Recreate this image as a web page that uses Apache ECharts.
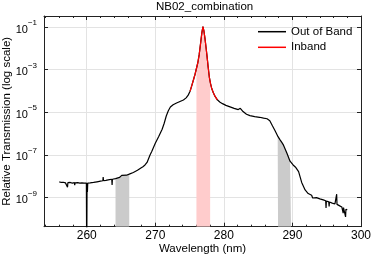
<!DOCTYPE html>
<html><head><meta charset="utf-8">
<script src="https://cdn.jsdelivr.net/npm/echarts@6/dist/echarts.min.js"></script>
<style>html,body{margin:0;padding:0;background:#fff}#c{width:374px;height:259px}</style>
</head><body><div id="c"></div>
<script>
// Wavelength (nm) and log10 of relative transmission
const wavelength = [
256.0,256.3,256.6,256.9,257.15,257.2,257.25,257.6,257.9,258.2,258.25,258.3,258.7,259.0,259.3,259.6,259.95,
260.0,260.05,260.1,260.15,260.5,261.0,261.5,262.0,262.35,262.4,262.45,262.8,263.3,263.65,263.7,263.75,
264.2,264.8,265.1,265.15,265.8,266.2,266.8,267.4,267.9,268.2,268.5,268.8,269.0,269.25,269.5,270.0,
270.5,271.0,271.3,271.6,271.9,272.2,272.6,273.1,273.6,274.1,274.5,274.8,
275.07,275.3,275.55,275.8,276.0,276.2,276.4,276.6,276.8,276.95,277.1,277.25,277.4,277.55,277.7,277.88,
278.05,278.23,278.45,278.7,279.05,
279.4,279.8,280.3,280.9,281.5,282.1,282.4,282.5,282.8,283.3,283.8,284.5,285.2,285.8,286.3,286.7,
287.1,287.45,287.9,288.2,288.45,288.7,289.2,289.65,290.1,290.5,290.9,291.35,291.85,292.3,292.8,
292.95,293.0,293.5,294.0,294.5,294.85,294.9,294.95,295.3,295.35,295.4,295.8,296.2,296.4,296.45,296.5,
296.9,297.2,297.35,297.4,297.45,297.7,297.75,297.8,298.0
];
const log10Transmission = [
-8.27,-8.30,-8.29,-8.32,-8.31,-8.52,-8.31,-8.30,-8.33,-8.31,-8.43,-8.32,-8.31,-8.33,-8.32,-8.33,-8.33,
-12.0,-8.33,-8.75,-8.33,-8.32,-8.30,-8.27,-8.24,-8.22,-8.05,-8.22,-8.20,-8.17,-8.15,-8.42,-8.15,
-8.12,-8.06,-7.97,-8.03,-7.96,-7.91,-7.83,-7.73,-7.62,-7.56,-7.48,-7.36,-7.20,-7.00,-6.83,-6.46,
-6.14,-5.80,-5.52,-5.18,-4.93,-4.76,-4.65,-4.57,-4.50,-4.43,-4.33,-4.20,
-4.02,-3.78,-3.50,-3.22,-2.95,-2.68,-2.30,-1.78,-1.25,-0.98,-1.20,-1.55,-1.95,-2.38,-2.85,-3.35,
-3.65,-3.89,-4.08,-4.25,-4.42,
-4.52,-4.60,-4.68,-4.75,-4.82,-4.88,-4.82,-4.86,-4.97,-5.10,-5.16,-5.21,-5.24,-5.28,-5.31,-5.40,
-5.65,-5.86,-6.15,-6.30,-6.42,-6.55,-6.93,-7.30,-7.48,-7.60,-7.79,-8.30,-8.65,-8.82,-8.90,
-9.03,-8.94,-9.01,-9.07,-9.12,-9.16,-9.50,-9.17,-9.21,-9.43,-9.22,-9.27,-9.31,-9.32,-8.85,-9.33,
-9.40,-9.45,-9.47,-9.74,-9.48,-9.55,-9.92,-9.56,-9.58
];
const inbandRange = [275.07, 279.05];
const grayBands = [[264.2, 266.2], [287.85, 289.8]];
const pinkBand = [276.0, 278.0];
const yTickExponents = [-9, -7, -5, -3, -1];
const xRange = [253.77, 300];
const yRange = [-10.377, -0.485];

function interp(x) {
  for (let i = 1; i < wavelength.length; i++) {
    if (wavelength[i] >= x) {
      const x0 = wavelength[i-1], x1 = wavelength[i];
      const t = (x - x0) / (x1 - x0);
      return log10Transmission[i-1] + t * (log10Transmission[i] - log10Transmission[i-1]);
    }
  }
  return log10Transmission[log10Transmission.length - 1];
}
function bandData(a, b) {
  const d = [[a, interp(a)]];
  wavelength.forEach((w, i) => { if (w > a && w < b) d.push([w, log10Transmission[i]]); });
  d.push([b, interp(b)]);
  return d;
}
const allData = wavelength.map((w, i) => [w, log10Transmission[i]]);
const inbandData = allData.filter(p => p[0] >= inbandRange[0] && p[0] <= inbandRange[1]);

function bandSeries(name, range, color) {
  return {
    name: name, type: 'line', data: bandData(range[0], range[1]),
    symbol: 'none', silent: true, z: 1,
    lineStyle: { width: 0 },
    areaStyle: { color: color, opacity: 1, origin: 'start' }
  };
}

const FONT = 'Liberation Sans';
const axisLineStyle = { color: '#222', width: 1 };
const chart = echarts.init(document.getElementById('c'));
chart.setOption({
  animation: false,
  textStyle: { fontFamily: FONT },
  title: {
    text: 'NB02_combination', left: 156, top: 1, padding: 0,
    textStyle: { fontFamily: FONT, fontSize: 11.5, fontWeight: 'normal', color: '#000' }
  },
  legend: {
    orient: 'vertical', left: 258, top: 24.7, padding: 0,
    itemWidth: 28, itemHeight: 1.5, itemGap: 1.6, icon: 'rect',
    textStyle: { fontFamily: FONT, fontSize: 11.5, color: '#000', lineHeight: 14 },
    data: ['Out of Band', 'Inband']
  },
  grid: { left: 44, right: 13, top: 16, bottom: 32.3, containLabel: false, outerBoundsMode: 'none' },
  xAxis: [{
    type: 'value', min: xRange[0], max: xRange[1],
    name: 'Wavelength (nm)', nameLocation: 'middle', nameGap: 16.5, nameMoveOverlap: false,
    nameTextStyle: { fontFamily: FONT, fontSize: 11.5, color: '#000' },
    axisLine: { show: true, lineStyle: axisLineStyle },
    axisTick: { show: true, inside: true, length: 4, lineStyle: axisLineStyle },
    minorTick: { show: true, splitNumber: 5, length: 2, lineStyle: axisLineStyle },
    axisLabel: { fontFamily: FONT, fontSize: 12, color: '#000', margin: 3, showMinLabel: false },
    splitLine: { show: true, lineStyle: { color: '#e3e3e3', width: 1 } }
  }, {
    type: 'value', min: xRange[0], max: xRange[1], position: 'top',
    axisLine: { show: true, lineStyle: axisLineStyle },
    axisTick: { show: true, inside: true, length: 4, lineStyle: axisLineStyle },
    minorTick: { show: true, splitNumber: 5, length: 2, lineStyle: axisLineStyle },
    axisLabel: { show: false },
    splitLine: { show: false }
  }],
  yAxis: [{
    type: 'value', min: yRange[0], max: yRange[1],
    name: 'Relative Transmission (log scale)', nameLocation: 'middle', nameGap: 31, nameMoveOverlap: false,
    nameTextStyle: { fontFamily: FONT, fontSize: 11.5, color: '#000' },
    axisLine: { show: true, lineStyle: axisLineStyle },
    axisTick: { show: true, inside: true, length: 4, lineStyle: axisLineStyle, customValues: yTickExponents },
    axisLabel: {
      customValues: yTickExponents, margin: 7,
      formatter: v => '{a|10}{b|\u2212' + Math.abs(Math.round(v)) + '}',
      rich: {
        a: { fontFamily: FONT, fontSize: 11, color: '#000', lineHeight: 16, verticalAlign: 'bottom' },
        b: { fontFamily: FONT, fontSize: 8, color: '#000', lineHeight: 16, verticalAlign: 'top', padding: [0, 0, 6, 0] }
      }
    },
    splitLine: { show: true, lineStyle: { color: '#e3e3e3', width: 1 } }
  }, {
    type: 'value', min: yRange[0], max: yRange[1], position: 'right',
    axisLine: { show: true, lineStyle: axisLineStyle },
    axisTick: { show: true, inside: true, length: 4, lineStyle: axisLineStyle, customValues: yTickExponents },
    axisLabel: { show: false },
    splitLine: { show: false }
  }],
  series: [
    bandSeries('band1', grayBands[0], '#cbcbcb'),
    bandSeries('band2', grayBands[1], '#cbcbcb'),
    bandSeries('band3', pinkBand, '#ffcccc'),
    {
      name: 'Out of Band', type: 'line', data: allData, symbol: 'none', z: 3,
      color: '#000', lineStyle: { color: '#000', width: 1.2 }
    },
    {
      name: 'Inband', type: 'line', data: inbandData, symbol: 'none', z: 4,
      color: '#ff0000', lineStyle: { color: '#ff0000', width: 1.2 }
    }
  ]
});
</script>
</body></html>
